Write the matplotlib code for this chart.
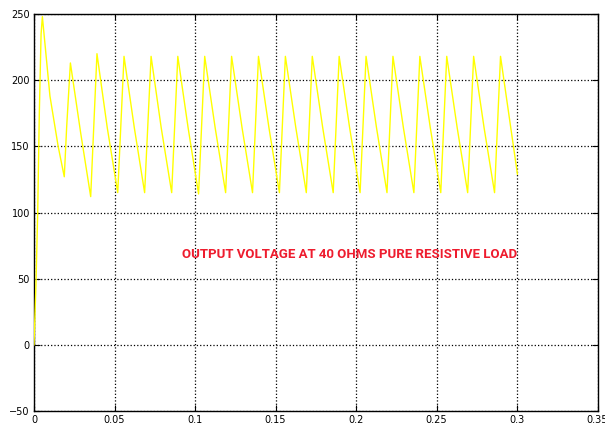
import matplotlib
matplotlib.use("Agg")
import matplotlib.pyplot as plt

# waveform vertices (s, V)
TIME = [0.0, 0.0012, 0.0023, 0.0033, 0.0044, 0.0052,
        0.0099, 0.0150, 0.0188,
        0.0203, 0.0226, 0.0290, 0.0352,
        0.0391, 0.0455, 0.0520,
        0.0559, 0.0623, 0.0687,
        0.0727, 0.0790, 0.0855,
        0.0893, 0.0957, 0.1022,
        0.1060, 0.1125, 0.1190,
        0.1227, 0.1292, 0.1357,
        0.1394, 0.1459, 0.1524,
        0.1561, 0.1626, 0.1691,
        0.1728, 0.1793, 0.1858,
        0.1895, 0.1960, 0.2025,
        0.2062, 0.2127, 0.2192,
        0.2229, 0.2294, 0.2359,
        0.2396, 0.2461, 0.2526,
        0.2563, 0.2628, 0.2693,
        0.2730, 0.2795, 0.2860,
        0.2897, 0.3002]
VOLTS = [0, 45, 100, 175, 235, 248,
         188, 150, 127,
         165, 213, 160, 112,
         220, 164, 115,
         218, 164, 115,
         218, 164, 115,
         218, 164, 114,
         218, 164, 115,
         218, 164, 115,
         218, 164, 115,
         218, 164, 115,
         218, 164, 115,
         218, 164, 115,
         218, 164, 115,
         218, 164, 115,
         218, 164, 115,
         218, 164, 115,
         218, 164, 115,
         218, 129]

XTICKS = [0, 0.05, 0.1, 0.15, 0.2, 0.25, 0.3, 0.35]
XTICK_LABELS = ["0", "0.05", "0.1", "0.15", "0.2", "0.25", "0.3", "0.35"]
YTICKS = [-50, 0, 50, 100, 150, 200, 250]
NOTE = "OUTPUT VOLTAGE AT 40 OHMS PURE RESISTIVE LOAD"

fig = plt.figure(figsize=(6.05, 4.28), dpi=100)
ax = fig.add_axes([0.0562, 0.0397, 0.9316, 0.9276])

ax.plot(TIME, VOLTS, color="#FFFF00", linewidth=1.0, zorder=3)

ax.set_xlim(0, 0.35)
ax.set_ylim(-50, 250)
ax.set_xticks(XTICKS)
ax.set_xticklabels(XTICK_LABELS)
ax.set_yticks(YTICKS)
ax.tick_params(direction="in", length=4, width=0.8, labelsize=7,
               top=True, right=True, pad=3, colors="black")
ax.grid(True, color="black", linestyle=":", linewidth=0.9)
for sp in ax.spines.values():
    sp.set_linewidth(1.0)

ax.text(0.196, 68, NOTE, color="#EE1C2E", fontsize=9.5, fontweight="bold",
        ha="center", va="center", family=["Roboto", "DejaVu Sans"], zorder=4)

fig.savefig("out.png", dpi=100)
